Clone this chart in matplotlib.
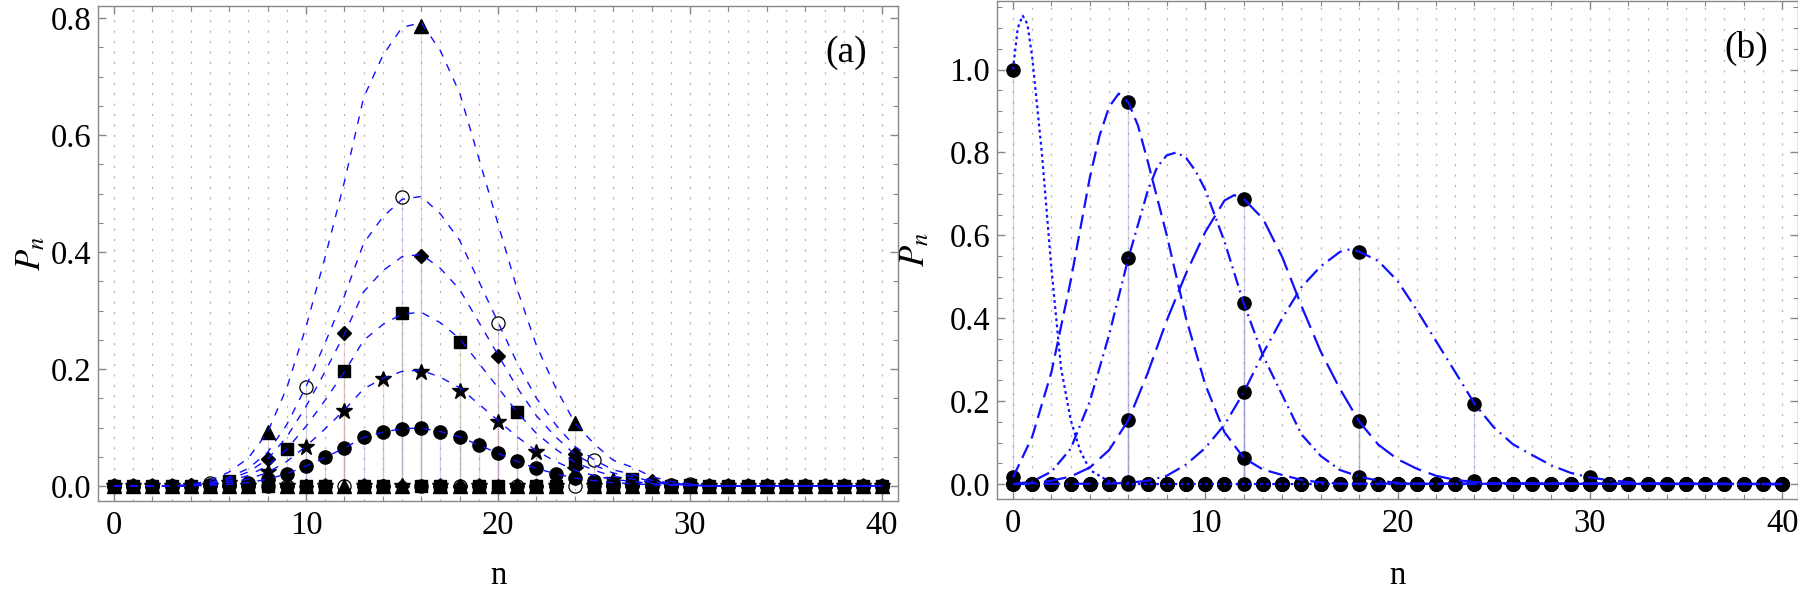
import matplotlib.pyplot as plt
import numpy as np

plt.rcParams.update({
    "font.family": "serif",
    "font.serif": ["Liberation Serif", "DejaVu Serif"],
    "mathtext.fontset": "stix",
    "font.size": 23.5,
    "lines.scale_dashes": False,
})

n = np.arange(41)

# ---- panel (a) ----
# filled circles (every n), also the shape of the dashed curves
p_circle = [0, 0, 0, 0, 0.0003, 0.0012, 0.003, 0.006, 0.0115, 0.021,
            0.034, 0.049, 0.065, 0.083, 0.092, 0.098, 0.099, 0.093, 0.084, 0.070,
            0.056, 0.042, 0.030, 0.021, 0.0135, 0.009, 0.0055, 0.004, 0.002, 0.001,
            0.0005, 0, 0, 0, 0, 0, 0, 0, 0, 0, 0]
curve_scale = [1, 2, 3, 4, 5, 8]

star_n = [6, 8, 10, 12, 14, 16, 18, 20, 22, 24, 26, 28]
star_p = [0.006, 0.024, 0.066, 0.129, 0.183, 0.195, 0.163, 0.109, 0.059, 0.027, 0.011, 0.004]
square_n = [6, 9, 12, 15, 18, 21, 24, 27, 30]
square_p = [0.009, 0.063, 0.197, 0.296, 0.247, 0.126, 0.040, 0.012, 0.002]
diamond_n = [4, 8, 12, 16, 20, 24, 28]
diamond_p = [0.001, 0.046, 0.262, 0.394, 0.222, 0.054, 0.008]
open_n = [5, 10, 15, 20, 25, 30]
open_p = [0.006, 0.170, 0.494, 0.279, 0.045, 0.003]
tri_n = [8, 16, 24]
tri_p = [0.092, 0.786, 0.108]

# ---- panel (b) ----
dot_n, dot_p = [0], [1.0]
sdash_n, sdash_p = [0, 6, 12, 18], [0.016, 0.922, 0.063, 0.001]
dd_n, dd_p = [0, 6, 12, 18], [0.0005, 0.545, 0.436, 0.018]
ldash_n, ldash_p = [0, 6, 12, 18, 24], [0, 0.154, 0.688, 0.151, 0.008]
ldd_n, ldd_p = [6, 12, 18, 24, 30], [0.005, 0.221, 0.561, 0.194, 0.016]

dot_cx = [0, 0.25, 0.5, 0.75, 1, 1.5, 2, 2.5, 3, 3.5, 4, 5, 6, 40]
dot_cy = [1.0, 1.10, 1.13, 1.11, 1.03, 0.80, 0.52, 0.28, 0.155, 0.08, 0.034, 0.006, 0, 0]
sdash_cx = [0, 1, 2, 3, 4, 4.5, 5, 5.5, 6, 6.5, 7, 8, 9, 10, 11, 12, 13, 14, 15, 16, 17, 40]
sdash_cy = [0.016, 0.114, 0.27, 0.49, 0.74, 0.84, 0.91, 0.942, 0.921, 0.865, 0.78, 0.60,
            0.40, 0.24, 0.125, 0.063, 0.035, 0.022, 0.01, 0.004, 0.001, 0]
dd_cx = [0, 1, 2, 3, 4, 5, 6, 7, 7.5, 8, 8.5, 9, 9.5, 10, 11, 12, 13, 14, 15, 16, 17,
         18, 19, 20, 21, 40]
dd_cy = [0, 0.006, 0.03, 0.085, 0.2, 0.36, 0.545, 0.706, 0.765, 0.793, 0.80, 0.787,
         0.755, 0.71, 0.585, 0.436, 0.31, 0.215, 0.12, 0.068, 0.034, 0.018, 0.008,
         0.003, 0.001, 0]
ldash_cx = [0, 1, 2, 3, 4, 5, 6, 7, 8, 9, 10, 11, 11.5, 12, 13, 14, 15, 16, 17, 18,
            19, 20, 21, 22, 23, 24, 25, 40]
ldash_cy = [0, 0.002, 0.008, 0.018, 0.04, 0.082, 0.154, 0.267, 0.395, 0.508, 0.608,
            0.684, 0.697, 0.688, 0.64, 0.548, 0.43, 0.32, 0.23, 0.151, 0.095, 0.06,
            0.037, 0.02, 0.01, 0.005, 0.002, 0]
ldd_cx = [0, 5, 6, 7, 8, 9, 10, 11, 12, 13, 14, 15, 16, 17, 17.5, 18, 19, 20, 21, 22,
          23, 24, 25, 26, 27, 28, 29, 30, 31, 32, 33, 34, 40]
ldd_cy = [0, 0.001, 0.003, 0.008, 0.02, 0.047, 0.087, 0.143, 0.221, 0.315, 0.40,
          0.475, 0.525, 0.56, 0.566, 0.561, 0.538, 0.49, 0.42, 0.345, 0.27, 0.194,
          0.137, 0.096, 0.07, 0.045, 0.027, 0.016, 0.009, 0.005, 0.002, 0.001, 0]

BLUE = "#1010ff"
GRAY = "#888888"
STEM_COLS = ["#8a9fd0", "#d8a0b8", "#a8c090", "#d8a0a0", "#a898c8", "#c8a0c0"]


def full(idx, vals):
    out = np.zeros(len(n))
    out[idx] = vals
    return out


def style_axes(ax, ylim, label, xlab_y, ylab_x):
    ax.set_xlim(-0.83, 40.83)
    ax.set_ylim(*ylim)
    for s in ax.spines.values():
        s.set_color(GRAY)
        s.set_linewidth(1.0)
    ax.set_xticks([0, 10, 20, 30, 40])
    ax.set_xticks(np.arange(0, 41, 2), minor=True)
    ax.set_yticks(np.arange(0, ylim[1], 0.2))
    ax.set_yticks(np.arange(0, ylim[1], 0.05), minor=True)
    ax.yaxis.set_major_formatter(plt.FormatStrFormatter("%.1f"))
    ax.tick_params(which="both", direction="in", top=True, right=True, color=GRAY)
    ax.tick_params(which="major", length=6, width=1, pad=5)
    ax.tick_params(which="minor", length=3.5, width=0.8)
    ax.tick_params(axis="x", pad=7)
    for xi in n:
        ax.axvline(xi, color="#b4b4b4", lw=0.9, ls=(0, (1.5, 6)), zorder=0)
    ax.set_xlabel("n", va="center")
    ax.xaxis.set_label_coords(0.5, xlab_y)
    ax.set_ylabel("$P_n$", fontsize=25, va="center")
    ax.yaxis.set_label_coords(ylab_x, 0.5)
    ax.text(0.935, 0.905, label, transform=ax.transAxes, ha="center", va="center",
            fontsize=27)


fig = plt.figure(figsize=(17.99, 5.96), dpi=100)
ax1 = fig.add_axes([0.0545, 0.1594, 0.4447, 0.8305])
ax2 = fig.add_axes([0.5542, 0.1628, 0.4453, 0.8360])

# panel (a)
series_a = [
    (n, p_circle, "o", dict(ms=9.5, mfc="black", mec="black")),
    (star_n, star_p, "*", dict(ms=12, mfc="black", mec="black")),
    (square_n, square_p, "s", dict(ms=8, mfc="black", mec="black")),
    (diamond_n, diamond_p, "D", dict(ms=7, mfc="black", mec="black")),
    (open_n, open_p, "o", dict(ms=9.5, mfc="none", mec="black", mew=0.9)),
    (tri_n, tri_p, "^", dict(ms=10, mfc="black", mec="black")),
]
for i, (idx, vals, mk, kw) in enumerate(series_a):
    y = full(idx, vals)
    ax1.vlines(n[y > 0], 0, y[y > 0], color=STEM_COLS[i], alpha=0.45, lw=0.9, zorder=1)
    ax1.plot(n, y, ls="none", marker=mk, zorder=2 + i * 0.01, **kw)
for k in curve_scale:
    ax1.plot(n, np.array(p_circle) * k, color=BLUE, lw=1.0, ls=(0, (5.5, 6)), zorder=3)
style_axes(ax1, (-0.0256, 0.8205), "(a)", -0.1515, -0.0825)

# panel (b)
series_b = [(dot_n, dot_p), (sdash_n, sdash_p), (dd_n, dd_p),
            (ldash_n, ldash_p), (ldd_n, ldd_p)]
for idx, vals in series_b:
    y = full(idx, vals)
    ax2.vlines(n[y > 0], 0, y[y > 0], color="#8c8cd0", alpha=0.4, lw=1.0, zorder=1)
    ax2.plot(n, y, ls="none", marker="o", ms=9.5, color="black", zorder=2)

curves_b = [
    (dot_cx, dot_cy, (0, (2, 2.4))),
    (sdash_cx, sdash_cy, (0, (10.5, 5))),
    (dd_cx, dd_cy, (0, (9.5, 3.6, 1.4, 3.6))),
    (ldash_cx, ldash_cy, (0, (16.5, 5.8))),
    (ldd_cx, ldd_cy, (0, (12, 4.3, 1.4, 4.3))),
]
for cx, cy, ls in curves_b:
    ax2.plot(cx, cy, color=BLUE, lw=1.6, ls=ls, zorder=3)
style_axes(ax2, (-0.036, 1.166), "(b)", -0.1546, -0.101)

fig.savefig("out.png", dpi=100)
